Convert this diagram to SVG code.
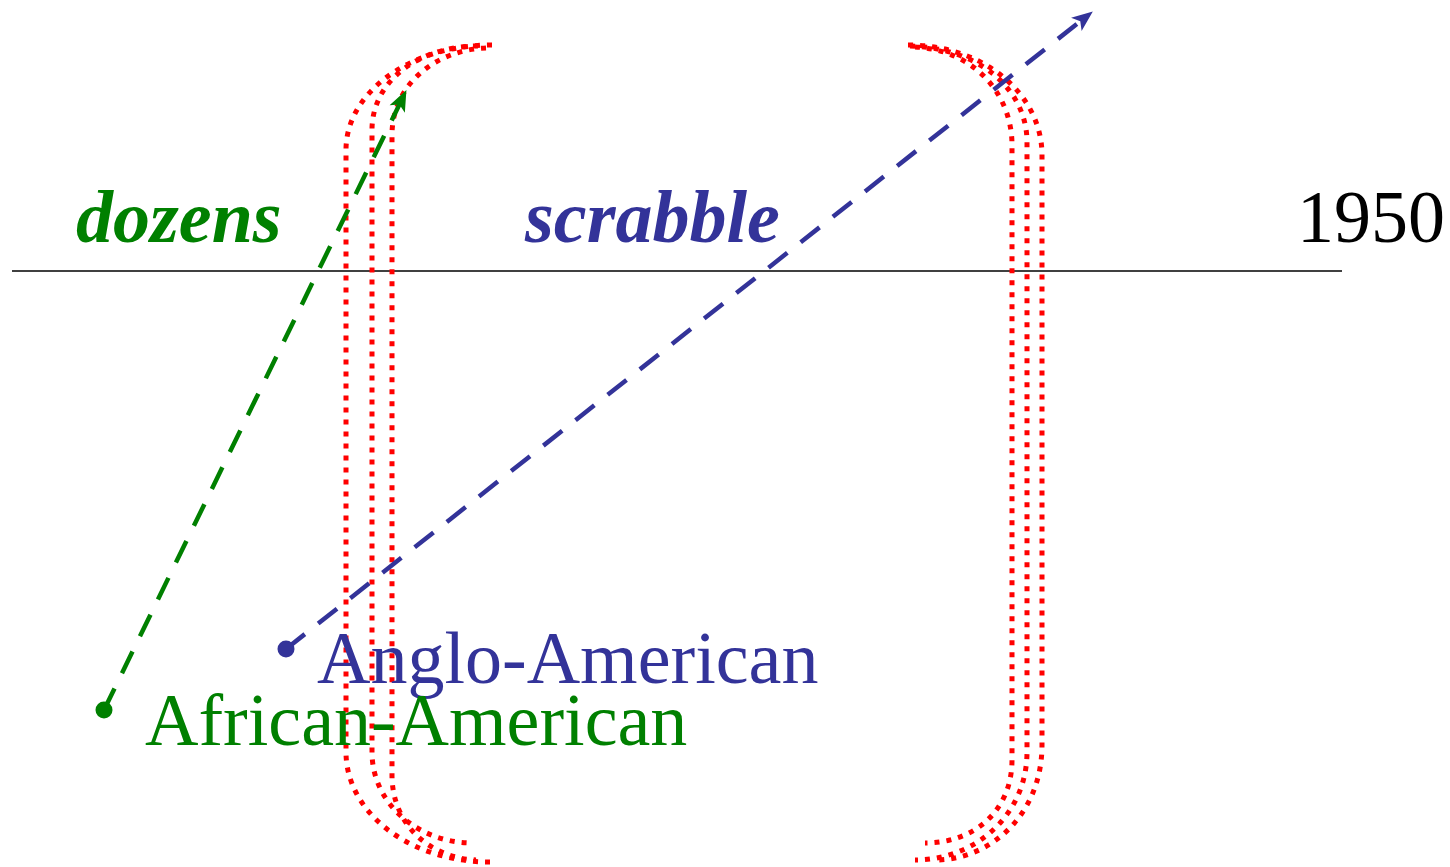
<svg xmlns="http://www.w3.org/2000/svg" width="1450" height="867" viewBox="0 0 1450 867">
<style>
.br{fill:none;stroke:#ff0000;stroke-width:5;stroke-dasharray:5 7}
.lbl{font-family:"Liberation Serif","Times New Roman",serif;font-size:74px}
.bi{font-weight:bold;font-style:italic}
.g{fill:#008000}
.b{fill:#333399}
.k{fill:#000000}
.cg{fill:none;stroke:#008000;stroke-width:4.5;stroke-dasharray:24 17}
.cb{fill:none;stroke:#333399;stroke-width:4.5;stroke-dasharray:24 17}
</style>
<defs>
<marker id="headG" markerUnits="userSpaceOnUse" orient="auto" refX="0" refY="0" markerWidth="40" markerHeight="40" overflow="visible"><path d="M11,0 L-10,-8.5 L-5,0 L-10,8.5 Z" fill="#008000"/></marker>
<marker id="headB" markerUnits="userSpaceOnUse" orient="auto" refX="0" refY="0" markerWidth="40" markerHeight="40" overflow="visible"><path d="M11,0 L-10,-8.5 L-5,0 L-10,8.5 Z" fill="#333399"/></marker>
<marker id="dotG" markerUnits="userSpaceOnUse" refX="0" refY="0" markerWidth="20" markerHeight="20" overflow="visible"><circle cx="0" cy="0" r="8.5" fill="#008000"/></marker>
<marker id="dotB" markerUnits="userSpaceOnUse" refX="0" refY="0" markerWidth="20" markerHeight="20" overflow="visible"><circle cx="0" cy="0" r="8.5" fill="#333399"/></marker>
</defs>
<rect width="1450" height="867" fill="#ffffff"/>
<g id="timeline">
<line x1="12" y1="271" x2="1342" y2="271" stroke="#000" stroke-width="1.6"/>
<text class="lbl k" x="1297" y="242">1950</text>
</g>
<g id="bracket-left">
<path class="br" d="M492,45 C411,45 346,92 346,150 L346,752 C346,813 410,862 490,862"/>
<path class="br" d="M478,46 C420,46 372,80 372,130 L372,752 C372,805 420,843 472,843"/>
<path class="br" d="M486,48 C435,50 392,85 392,135 L392,775 C392,825 430,858 476,860"/>
</g>
<g id="bracket-right">
<path class="br" d="M908,45 C985,45 1042,95 1042,155 L1042,745 C1042,815 990,860 935,860"/>
<path class="br" d="M910,46 C980,48 1027,90 1027,142 L1027,752 C1027,815 975,860 915,860"/>
<path class="br" d="M915,47 C975,50 1012,95 1012,145 L1012,760 C1012,810 975,843 925,843"/>
</g>
<g id="dozens"><text class="lbl bi g" x="76" y="242">dozens</text></g>
<g id="scrabble"><text class="lbl bi b" x="525" y="242">scrabble</text></g>
<g id="anglo"><text class="lbl b" x="317" y="683">Anglo-American</text></g>
<g id="african"><text class="lbl g" x="145" y="745">African-American</text></g>
<g id="connectors">
<path class="cg" d="M104,710 L401.6,100" marker-start="url(#dotG)" marker-end="url(#headG)"/>
<path class="cb" d="M286,649 L1084.2,18.2" marker-start="url(#dotB)" marker-end="url(#headB)"/>
</g>
</svg>
